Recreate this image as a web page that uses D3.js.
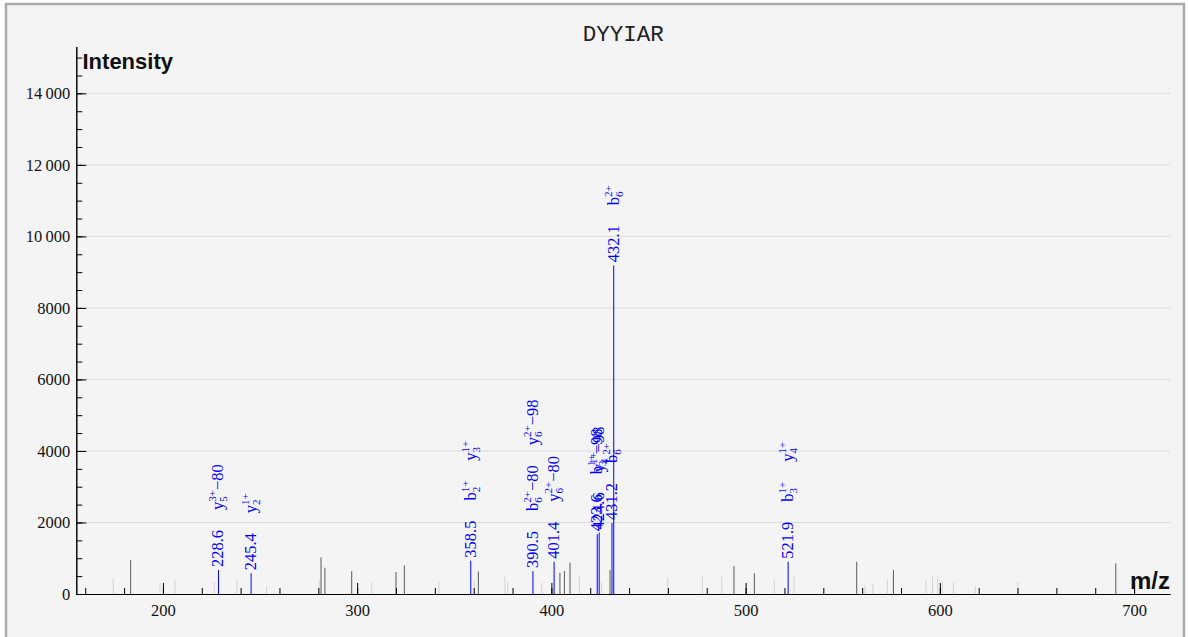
<!DOCTYPE html>
<html>
<head>
<meta charset="utf-8">
<script src="https://cdn.jsdelivr.net/npm/d3@7/dist/d3.min.js"></script>
<style>
  body { margin: 0; background: #fff; }
  svg { display: block; }
</style>
</head>
<body>
<div id="graph"></div>
<script>
const peptide = 'DYYIAR';

// annotated (matched) peaks
const matchedMz = [228.6, 245.4, 358.5, 390.5, 401.4, 423.6, 424.6, 431.2, 432.1, 521.9];
const matchedIntensity = [670, 580, 930, 640, 900, 1670, 1720, 1985, 9190, 900];
// ion labels: [ion, charge subscript index, charge, loss]
const matchedIons = [
  [['y', '5', '3+', '\u221280']],
  [['y', '2', '1+', '']],
  [['b', '2', '1+', ''], ['y', '3', '1+', '']],
  [['b', '6', '2+', '\u221280'], ['y', '6', '2+', '\u221298']],
  [['y', '6', '2+', '\u221280']],
  [['b', '3', '1+', '\u221298']],
  [['y', '4', '1+', '\u221298']],
  [['b', '6', '2+', '']],
  [['b', '6', '2+', '']],
  [['b', '3', '1+', ''], ['y', '4', '1+', '']]
];

// unmatched peaks, stronger
const darkMz = [183.4, 281.4, 283.4, 297.2, 320.0, 324.3, 362.4, 404.4, 406.7, 409.6, 430.2, 494.0, 504.5, 557.2, 576.1, 690.6];
const darkIntensity = [950, 1025, 735, 640, 615, 800, 625, 595, 640, 880, 670, 780, 580, 900, 670, 855];

// unmatched peaks, weaker
const lightMz = [174.4, 198.5, 206.2, 226.4, 238.1, 253.4, 280.5, 307.5, 342.1, 360.3, 376.1, 377.5, 395.0, 414.4, 425.9,
  459.9, 477.7, 487.7, 514.8, 525.0, 561.5, 565.5, 573.0, 592.8, 596.2, 599.0, 601.2, 607.0, 618.3, 640.1];
const lightIntensity = [440, 300, 390, 340, 410, 220, 390, 310, 360, 365, 500, 345, 315, 485, 315,
  465, 530, 485, 390, 500, 250, 280, 410, 390, 485, 465, 390, 345, 235, 330];

const xMajorTicks = [200, 300, 400, 500, 600, 700];
const xMinorTicks = d3.range(160, 720, 20);
const yMajorTicks = [0, 2000, 4000, 6000, 8000, 10000, 12000, 14000];
const yMinorTicks = d3.range(0, 15310, 500);

const width = 1188, height = 637;
const plot = { left: 76.3, right: 1170, top: 46.5, bottom: 594 };

const svg = d3.select('#graph').append('svg')
  .attr('width', width)
  .attr('height', height);

svg.append('rect')
  .attr('x', 6).attr('y', 4)
  .attr('width', 1178).attr('height', 645)
  .attr('fill', '#f4f4f4')
  .attr('stroke', '#aaa')
  .attr('stroke-width', 2.5);

const x = d3.scaleLinear().domain([155.4, 718.5]).range([plot.left, plot.right]);
const y = d3.scaleLinear().domain([0, 15310]).range([plot.bottom, plot.top]);

const serif = "'Liberation Serif', 'Times New Roman', serif";
const sans = "'Liberation Sans', Arial, sans-serif";

// grid lines
svg.append('g')
  .selectAll('line')
  .data(yMajorTicks.filter(d => d > 0))
  .enter().append('line')
  .attr('x1', plot.left).attr('x2', plot.right)
  .attr('y1', d => y(d)).attr('y2', d => y(d))
  .attr('stroke', '#dcdcdc')
  .attr('stroke-width', 1);

// title
svg.append('text')
  .attr('x', (plot.left + plot.right) / 2)
  .attr('y', 41)
  .attr('text-anchor', 'middle')
  .attr('font-family', "'Liberation Mono', 'Courier New', monospace")
  .attr('font-size', 22.5)
  .attr('fill', '#222')
  .text(peptide);

// peaks
function drawPeaks(mz, intensity, color) {
  svg.append('g')
    .selectAll('line')
    .data(mz.map((m, i) => ({ mz: m, v: intensity[i] })))
    .enter().append('line')
    .attr('x1', d => x(d.mz)).attr('x2', d => x(d.mz))
    .attr('y1', y(0)).attr('y2', d => y(d.v))
    .attr('stroke', color)
    .attr('stroke-width', 1);
}
drawPeaks(lightMz, lightIntensity, '#d2d2d2');
drawPeaks(darkMz, darkIntensity, '#5a5a5a');
drawPeaks(matchedMz, matchedIntensity, '#0000ff');

// axes
const fmtY = d => d >= 10000 ? d3.format(',')(d).replace(',', '\u2009') : String(d);

function styleAxis(g) {
  g.selectAll('text').attr('font-family', serif).attr('font-size', 16.5).attr('fill', '#111');
  g.selectAll('line').attr('stroke', '#000');
  g.select('.domain').attr('stroke', '#000');
}

svg.append('g')
  .attr('transform', 'translate(0,' + plot.bottom + ')')
  .call(d3.axisBottom(x).tickValues(xMinorTicks).tickSize(-6).tickSizeOuter(0).tickFormat(''))
  .call(styleAxis);
svg.append('g')
  .attr('transform', 'translate(0,' + plot.bottom + ')')
  .call(d3.axisBottom(x).tickValues(xMajorTicks).tickSize(-11).tickSizeOuter(0).tickPadding(10))
  .call(styleAxis);

svg.append('g')
  .attr('transform', 'translate(' + plot.left + ',0)')
  .call(d3.axisLeft(y).tickValues(yMinorTicks).tickSize(-6).tickSizeOuter(0).tickFormat(''))
  .call(styleAxis);
svg.append('g')
  .attr('transform', 'translate(' + plot.left + ',0)')
  .call(d3.axisLeft(y).tickValues(yMajorTicks).tickSize(-10).tickSizeOuter(0).tickPadding(6).tickFormat(fmtY))
  .call(styleAxis);

svg.append('text')
  .attr('x', 82.5).attr('y', 69)
  .attr('font-family', sans).attr('font-weight', 'bold').attr('font-size', 22)
  .attr('fill', '#111')
  .text('Intensity');

svg.append('text')
  .attr('x', plot.right).attr('y', 589)
  .attr('text-anchor', 'end')
  .attr('font-family', sans).attr('font-weight', 'bold').attr('font-size', 24)
  .attr('fill', '#111')
  .text('m/z');

// peak labels: value then stacked ion names, rotated
const labelGap = 20;
matchedMz.forEach(function(m, i) {
  const g = svg.append('g')
    .attr('transform', 'translate(' + x(m) + ',' + (y(matchedIntensity[i]) - 3) + ') rotate(-90)')
    .attr('font-family', serif)
    .attr('fill', '#0000ff');

  const val = g.append('text')
    .attr('x', 0).attr('dy', '0.3em')
    .attr('font-size', 16.5)
    .text(m.toFixed(1));
  let pos = val.node().getBBox().x + val.node().getBBox().width + labelGap;

  matchedIons[i].forEach(function(ion) {
    const t = g.append('text')
      .attr('x', pos).attr('dy', '0.3em')
      .attr('font-size', 16.5);
    t.append('tspan').text(ion[0]);
    t.append('tspan').attr('font-size', 11).attr('dy', 4).text(ion[1]);
    t.append('tspan').attr('font-size', 11).attr('dx', -5.5).attr('dy', -11).text(ion[2]);
    if (ion[3]) t.append('tspan').attr('dy', 7).text(ion[3]);
    const bb = t.node().getBBox();
    pos = bb.x + bb.width + labelGap;
  });
});
</script>
</body>
</html>
